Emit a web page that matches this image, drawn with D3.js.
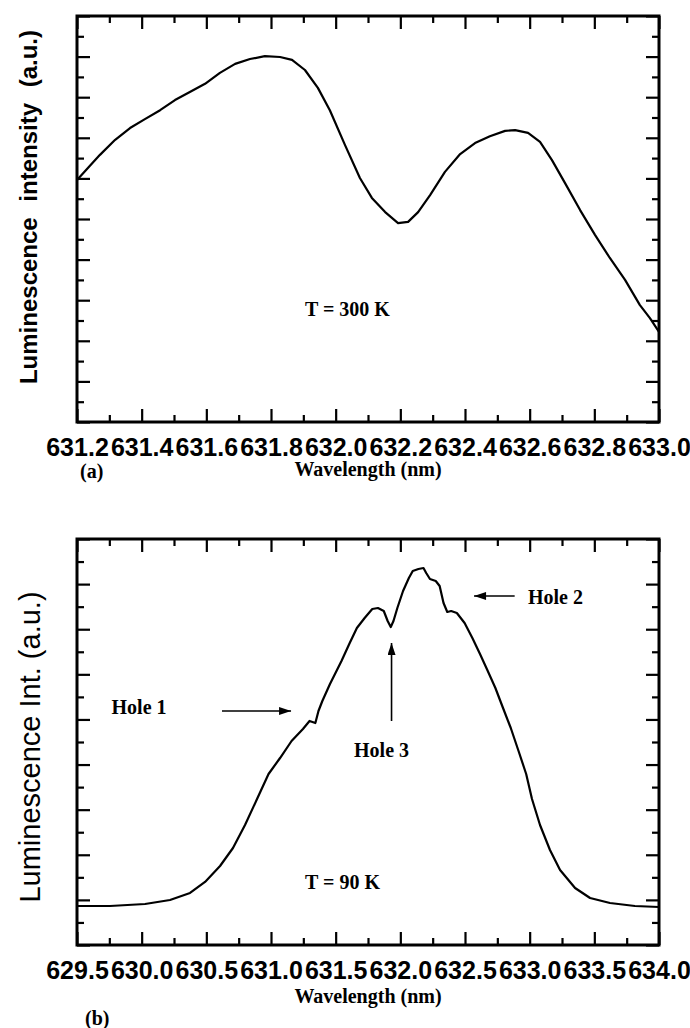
<!DOCTYPE html>
<html>
<head>
<meta charset="utf-8">
<script src="https://cdn.jsdelivr.net/npm/d3@7"></script>
<style>
  body { margin: 0; background: #fff; }
  svg { display: block; }
</style>
</head>
<body>
<div id="chart"></div>
<script>
// ---------------- data ----------------
// panel (a): T = 300 K
const waveA = [631.200, 631.240, 631.271, 631.318, 631.364, 631.410, 631.457, 631.503, 631.549, 631.596,
  631.642, 631.689, 631.735, 631.781, 631.828, 631.865, 631.905, 631.945, 631.982, 632.029,
  632.075, 632.112, 632.153, 632.193, 632.224, 632.255, 632.292, 632.338, 632.385, 632.431,
  632.477, 632.524, 632.555, 632.595, 632.632, 632.669, 632.709, 632.756, 632.802, 632.848,
  632.895, 632.941, 632.972, 633.000];
const intensityA = [5.96, 6.31, 6.58, 6.95, 7.24, 7.46, 7.68, 7.93, 8.13, 8.33,
  8.60, 8.82, 8.94, 9.01, 8.99, 8.92, 8.67, 8.23, 7.68, 6.82,
  6.01, 5.52, 5.17, 4.90, 4.93, 5.17, 5.59, 6.16, 6.60, 6.87,
  7.04, 7.17, 7.19, 7.12, 6.90, 6.45, 5.89, 5.22, 4.61, 4.04,
  3.50, 2.88, 2.56, 2.22];

// panel (b): T = 90 K
const waveB = [629.500, 629.755, 630.026, 630.219, 630.374, 630.490, 630.606, 630.706, 630.799, 630.892,
  630.981, 631.070, 631.159, 631.247, 631.298, 631.343, 631.367, 631.397, 631.456, 631.545,
  631.605, 631.664, 631.724, 631.783, 631.827, 631.872, 631.902, 631.926, 631.947, 631.977,
  632.021, 632.066, 632.096, 632.140, 632.179, 632.200, 632.229, 632.274, 632.304, 632.334,
  632.363, 632.393, 632.437, 632.497, 632.557, 632.616, 632.676, 632.735, 632.794, 632.854,
  632.914, 632.973, 633.018, 633.080, 633.157, 633.235, 633.351, 633.467, 633.621, 633.814, 634.000];
const intensityB = [0.865, 0.865, 0.909, 0.998, 1.153, 1.397, 1.751, 2.150, 2.660, 3.236,
  3.791, 4.145, 4.522, 4.788, 4.966, 4.921, 5.187, 5.409, 5.786, 6.296,
  6.673, 7.027, 7.249, 7.448, 7.470, 7.404, 7.182, 7.049, 7.182, 7.470,
  7.847, 8.135, 8.291, 8.335, 8.357, 8.246, 8.113, 8.069, 7.958, 7.581,
  7.382, 7.404, 7.360, 7.138, 6.806, 6.451, 6.074, 5.697, 5.254, 4.810,
  4.300, 3.791, 3.236, 2.660, 2.106, 1.663, 1.264, 1.042, 0.931, 0.865, 0.842];

// tick labels
const ticksA = [631.2, 631.4, 631.6, 631.8, 632.0, 632.2, 632.4, 632.6, 632.8, 633.0];
const ticksB = [629.5, 630.0, 630.5, 631.0, 631.5, 632.0, 632.5, 633.0, 633.5, 634.0];

// annotations of panel (b)
const holeLabels = ['Hole 1', 'Hole 2', 'Hole 3'];
const holeTextPos = [[629.767, 5.121], [632.987, 7.559], [631.642, 4.168]];
const holeArrowFrom = [[630.621, 5.187], [632.884, 7.737], [631.932, 4.966]];
const holeArrowTo = [[631.155, 5.187], [632.570, 7.737], [631.932, 6.695]];

// ---------------- layout ----------------
const totalWidth = 690, totalHeight = 1028;
const plotLeft = 77, plotWidth = 582, plotHeight = 406;
const topA = 16, topB = 539;
const axisFont = 'Liberation Sans, Arial, Helvetica, sans-serif';
const serifFont = 'Liberation Serif, Times New Roman, serif';

const svg = d3.select('#chart').append('svg')
  .attr('width', totalWidth)
  .attr('height', totalHeight);

const defs = svg.append('defs');
defs.append('marker')
  .attr('id', 'head')
  .attr('viewBox', '0 0 12 8')
  .attr('refX', 12).attr('refY', 4)
  .attr('markerUnits', 'userSpaceOnUse')
  .attr('markerWidth', 13).attr('markerHeight', 8)
  .attr('orient', 'auto')
  .append('path')
    .attr('d', 'M0,0 L12,4 L0,8 Z')
    .attr('fill', '#000');

function drawPanel(opts){
  const g = svg.append('g').attr('transform', 'translate(' + plotLeft + ',' + opts.top + ')');

  const x = d3.scaleLinear().domain(opts.xDomain).range([0, plotWidth]);
  const y = d3.scaleLinear().domain(opts.yDomain).range([plotHeight, 0]);

  const step = opts.ticks[1] - opts.ticks[0];
  const minor = d3.range(opts.ticks.length - 1).map(i => opts.ticks[i] + step / 2);
  const yMajor = d3.range(opts.yDomain[0], opts.yDomain[1] + 0.001, 1);
  const yMinor = d3.range(opts.yDomain[0] + 0.5, opts.yDomain[1], 1);

  const styleAxis = sel => {
    sel.select('.domain').remove();
    sel.selectAll('line').attr('stroke', '#000').attr('stroke-width', 2.2);
  };

  // bottom axis with labels
  const bottom = g.append('g').attr('transform', 'translate(0,' + plotHeight + ')')
    .call(d3.axisBottom(x).tickValues(opts.ticks).tickSize(-13).tickPadding(16)
      .tickFormat(d3.format('.1f')));
  styleAxis(bottom);
  bottom.selectAll('text')
    .attr('fill', '#000')
    .style('font-family', axisFont)
    .style('font-weight', 'bold')
    .style('font-size', '25px');
  g.append('g').attr('transform', 'translate(0,' + plotHeight + ')')
    .call(d3.axisBottom(x).tickValues(minor).tickSize(-7).tickFormat(''))
    .call(styleAxis);

  // top axis
  g.append('g').call(d3.axisTop(x).tickValues(opts.ticks).tickSize(-13).tickFormat('')).call(styleAxis);
  g.append('g').call(d3.axisTop(x).tickValues(minor).tickSize(-7).tickFormat('')).call(styleAxis);

  // left / right axes, no labels
  g.append('g').call(d3.axisLeft(y).tickValues(yMajor).tickSize(-13).tickFormat('')).call(styleAxis);
  g.append('g').call(d3.axisLeft(y).tickValues(yMinor).tickSize(-7).tickFormat('')).call(styleAxis);
  g.append('g').attr('transform', 'translate(' + plotWidth + ',0)')
    .call(d3.axisRight(y).tickValues(yMajor).tickSize(-13).tickFormat('')).call(styleAxis);
  g.append('g').attr('transform', 'translate(' + plotWidth + ',0)')
    .call(d3.axisRight(y).tickValues(yMinor).tickSize(-7).tickFormat('')).call(styleAxis);

  // frame
  g.append('rect')
    .attr('width', plotWidth).attr('height', plotHeight)
    .attr('fill', 'none').attr('stroke', '#000').attr('stroke-width', 3);

  // spectrum
  const pts = opts.wave.map((w, i) => [w, opts.values[i]]);
  g.append('path')
    .datum(pts)
    .attr('fill', 'none')
    .attr('stroke', '#000')
    .attr('stroke-width', 2.2)
    .attr('stroke-linejoin', 'round')
    .attr('d', d3.line().x(d => x(d[0])).y(d => y(d[1])));

  // temperature
  g.append('text')
    .attr('x', x(opts.tempPos[0])).attr('y', y(opts.tempPos[1]))
    .style('font-family', serifFont).style('font-weight', 'bold').style('font-size', '20px')
    .text(opts.tempLabel);

  // y title
  svg.append('text')
    .attr('transform', 'translate(' + opts.yTitleX + ',' + opts.yTitleY + ') rotate(-90)')
    .attr('text-anchor', 'middle')
    .style('font-family', axisFont)
    .style('font-weight', opts.yTitleWeight)
    .style('font-size', opts.yTitleSize)
    .style('word-spacing', opts.yTitleWordSpacing)
    .text(opts.yTitle);

  // x title and panel letter
  svg.append('text')
    .attr('x', plotLeft + plotWidth / 2).attr('y', opts.top + plotHeight + opts.xTitleDy)
    .attr('text-anchor', 'middle')
    .style('font-family', serifFont).style('font-weight', 'bold').style('font-size', '20px')
    .text('Wavelength (nm)');
  svg.append('text')
    .attr('x', opts.letterX).attr('y', opts.top + plotHeight + opts.letterDy)
    .style('font-family', serifFont).style('font-weight', 'bold').style('font-size', '20px')
    .text(opts.letter);

  return {g: g, x: x, y: y};
}

drawPanel({
  top: topA, xDomain: [631.2, 633.0], yDomain: [0, 10], ticks: ticksA,
  wave: waveA, values: intensityA,
  tempLabel: 'T = 300 K', tempPos: [631.905, 2.611],
  yTitle: 'Luminescence intensity (a.u.)', yTitleX: 37, yTitleY: 207,
  yTitleWeight: 'bold', yTitleSize: '24px', yTitleWordSpacing: '9px',
  xTitleDy: 54, letter: '(a)', letterX: 80, letterDy: 56
});

const panelB = drawPanel({
  top: topB, xDomain: [629.5, 634.0], yDomain: [0, 9], ticks: ticksB,
  wave: waveB, values: intensityB,
  tempLabel: 'T = 90 K', tempPos: [631.263, 1.241],
  yTitle: 'Luminescence Int. (a.u.)', yTitleX: 40, yTitleY: 747,
  yTitleWeight: 'normal', yTitleSize: '29px', yTitleWordSpacing: '0px',
  xTitleDy: 58, letter: '(b)', letterX: 85, letterDy: 80
});

// hole annotations
panelB.g.selectAll('.hole-label')
  .data(holeLabels)
  .enter().append('text')
    .attr('class', 'hole-label')
    .attr('x', (d, i) => panelB.x(holeTextPos[i][0]))
    .attr('y', (d, i) => panelB.y(holeTextPos[i][1]))
    .style('font-family', serifFont).style('font-weight', 'bold').style('font-size', '20px')
    .text(d => d);

panelB.g.selectAll('.hole-arrow')
  .data(holeLabels)
  .enter().append('line')
    .attr('class', 'hole-arrow')
    .attr('x1', (d, i) => panelB.x(holeArrowFrom[i][0]))
    .attr('y1', (d, i) => panelB.y(holeArrowFrom[i][1]))
    .attr('x2', (d, i) => panelB.x(holeArrowTo[i][0]))
    .attr('y2', (d, i) => panelB.y(holeArrowTo[i][1]))
    .attr('stroke', '#000')
    .attr('stroke-width', 1.6)
    .attr('marker-end', 'url(#head)');
</script>
</body>
</html>
